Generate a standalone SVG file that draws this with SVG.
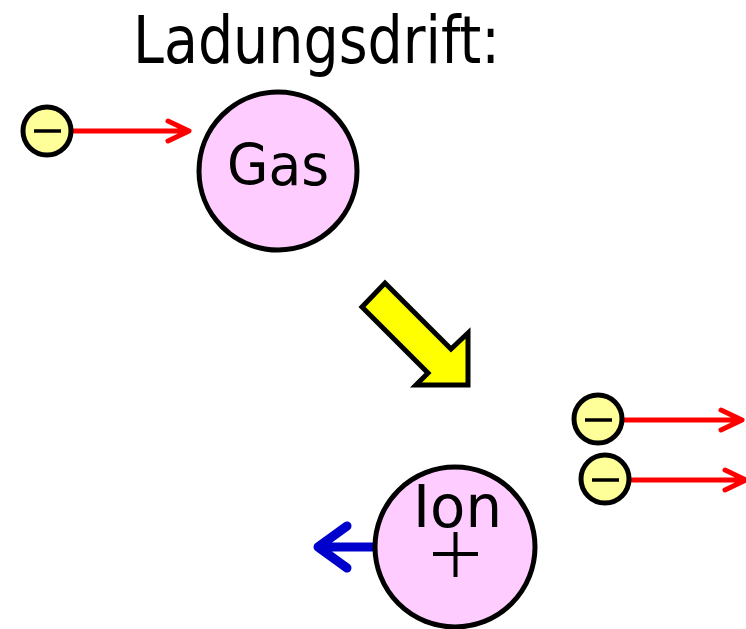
<svg xmlns="http://www.w3.org/2000/svg" width="746" height="629" viewBox="0 0 746 629">
  <style>
    .lbl { font-family: "DejaVu Sans", "Liberation Sans", sans-serif; fill: #000; }
    .big { fill: #FFCCFF; stroke: #000; stroke-width: 5; }
    .el { fill: #FFFF99; stroke: #000; stroke-width: 5; }
    .minus { stroke: #000; stroke-width: 3.5; }
    .red { stroke: #FF0000; stroke-width: 5; fill: none; stroke-linecap: round; stroke-linejoin: round; }
    .blue { stroke: #0000CC; stroke-width: 9; fill: none; stroke-linecap: round; stroke-linejoin: round; }
  </style>
  <rect width="746" height="629" fill="#fff"/>

  <text class="lbl" x="133" y="63" font-size="65" textLength="367" lengthAdjust="spacingAndGlyphs">Ladungsdrift:</text>

  <g id="connectors">
    <!-- incoming electron -->
    <path class="red" d="M72 131 H188 M168 121 L189 131 L168 141"/>
    <!-- outgoing electrons -->
    <path class="red" d="M623 420 H741 M721 410 L742 420 L721 430"/>
    <path class="red" d="M630 480 H745 M725 470 L746 480 L725 490"/>
    <!-- ion drift -->
    <path class="blue" d="M375 547 H322 M347 526 L318 547 L347 568"/>
    <!-- reaction arrow -->
    <polygon points="362,307 385,283 451,349 468,333 468,385 416,385 428,373" fill="#FFFF00" stroke="#000" stroke-width="5" stroke-linejoin="miter"/>
  </g>

  <g id="electron-in">
    <circle class="el" cx="47" cy="131" r="24"/>
    <line class="minus" x1="34" y1="131" x2="61" y2="131"/>
  </g>

  <g id="gas">
    <circle class="big" cx="278" cy="171" r="79"/>
    <text class="lbl" x="227" y="185" font-size="57" textLength="102" lengthAdjust="spacingAndGlyphs">Gas</text>
  </g>

  <g id="electron-out-1">
    <circle class="el" cx="598" cy="419" r="24"/>
    <line class="minus" x1="585" y1="420" x2="612" y2="420"/>
  </g>

  <g id="electron-out-2">
    <circle class="el" cx="605" cy="479" r="24"/>
    <line class="minus" x1="592" y1="480" x2="619" y2="480"/>
  </g>

  <g id="ion">
    <circle class="big" cx="455" cy="547" r="80"/>
    <text class="lbl" x="413" y="527" font-size="58" textLength="89" lengthAdjust="spacingAndGlyphs">Ion</text>
    <path d="M433 554 H478 M455.5 532 V577" stroke="#000" stroke-width="4"/>
  </g>
</svg>
